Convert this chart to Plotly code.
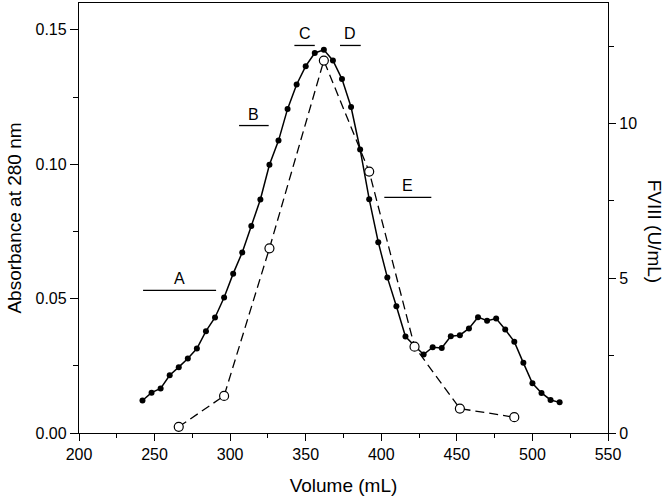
import plotly.graph_objects as go

# absorbance at 280 nm (filled dots, left axis)
volume = [242, 248, 254, 260, 266, 272, 278, 284, 290, 296, 302, 308, 314, 320,
          326, 332, 338, 344, 350, 356, 362, 368, 374, 380, 386, 392, 398, 404,
          410, 416, 422, 428, 434, 440, 446, 452, 458, 464, 470, 476, 482, 488,
          494, 500, 506, 512, 518]
absorbance = [0.0121, 0.0150, 0.0166, 0.0215, 0.0245, 0.0277, 0.0314, 0.0379,
              0.0430, 0.0504, 0.0593, 0.0672, 0.0770, 0.0869, 0.0998, 0.1088,
              0.1206, 0.1297, 0.1365, 0.1414, 0.1426, 0.1386, 0.1317, 0.1213,
              0.1055, 0.0870, 0.0710, 0.0579, 0.0472, 0.0359, 0.0325, 0.0292,
              0.0319, 0.0316, 0.0360, 0.0364, 0.0389, 0.0431, 0.0418, 0.0426,
              0.0385, 0.0340, 0.0261, 0.0185, 0.0149, 0.0123, 0.0114]

# FVIII activity (open circles, right axis)
fviii_volume = [266, 296, 326, 362, 392, 422, 452, 488]
fviii = [0.20, 1.20, 5.97, 12.04, 8.45, 2.79, 0.79, 0.51]

# pooled fractions
frac_names = ["A", "B", "C", "D", "E"]
frac_start = [242.4, 305.9, 342.5, 372.7, 402.0]
frac_end = [290.7, 325.5, 356.0, 386.4, 433.1]
frac_level = [0.0531, 0.1144, 0.1442, 0.1442, 0.0877]

FONT = "Liberation Sans, Arial, sans-serif"

fig = go.Figure()

fig.add_trace(go.Scatter(
    x=volume, y=absorbance, mode="lines+markers",
    line=dict(color="black", width=1.5),
    marker=dict(symbol="circle", size=6, color="black"),
    showlegend=False,
))

fig.add_trace(go.Scatter(
    x=fviii_volume, y=fviii, yaxis="y2", mode="lines+markers",
    line=dict(color="black", width=1.3, dash="9px,5px"),
    marker=dict(symbol="circle", size=9, color="white",
                line=dict(color="black", width=1.2)),
    showlegend=False,
))

for name, x0, x1, lvl in zip(frac_names, frac_start, frac_end, frac_level):
    fig.add_shape(type="line", x0=x0, x1=x1, y0=lvl, y1=lvl,
                  xref="x", yref="y", line=dict(color="black", width=1.3))
    fig.add_annotation(x=(x0 + x1) / 2, y=lvl, xref="x", yref="y",
                       text=name, showarrow=False, yanchor="bottom", yshift=1,
                       font=dict(size=16, color="black"))

fig.add_annotation(x=1.111, y=0.47, xref="paper", yref="paper",
                   text="FVIII (U/mL)", textangle=90, showarrow=False,
                   font=dict(size=19, color="black"))

axis_common = dict(
    showline=True, linecolor="black", linewidth=1.3,
    ticks="outside", tickcolor="black", tickwidth=1.3,
    showgrid=False, zeroline=False, automargin=False,
    tickfont=dict(size=16, color="black"),
)

fig.update_layout(
    width=670, height=499,
    margin=dict(l=79, r=62, t=3, b=66),
    plot_bgcolor="white", paper_bgcolor="white",
    font=dict(family=FONT, color="black"),
    xaxis=dict(
        range=[200, 550], dtick=50, ticklen=7, mirror=True,
        minor=dict(dtick=25, ticks="outside", ticklen=4, tickcolor="black"),
        title=dict(text="Volume (mL)", font=dict(size=19), standoff=16),
        **axis_common,
    ),
    yaxis=dict(
        range=[0, 0.16], tickvals=[0, 0.05, 0.10, 0.15], tickformat=".2f",
        ticklen=8,
        minor=dict(dtick=0.025, ticks="outside", ticklen=5, tickcolor="black"),
        title=dict(text="Absorbance at 280 nm", font=dict(size=19), standoff=8),
        **axis_common,
    ),
    yaxis2=dict(
        overlaying="y", side="right", range=[0, 13.9], dtick=5, ticklen=7,
        minor=dict(dtick=2.5, ticks="outside", ticklen=5, tickcolor="black"),
        **axis_common,
    ),
)

# page body has an 8px default margin; drop it so the figure sits at 0,0
fig.write_html("out.html", config={"displayModeBar": False},
               post_script="document.body.style.margin='0';")
